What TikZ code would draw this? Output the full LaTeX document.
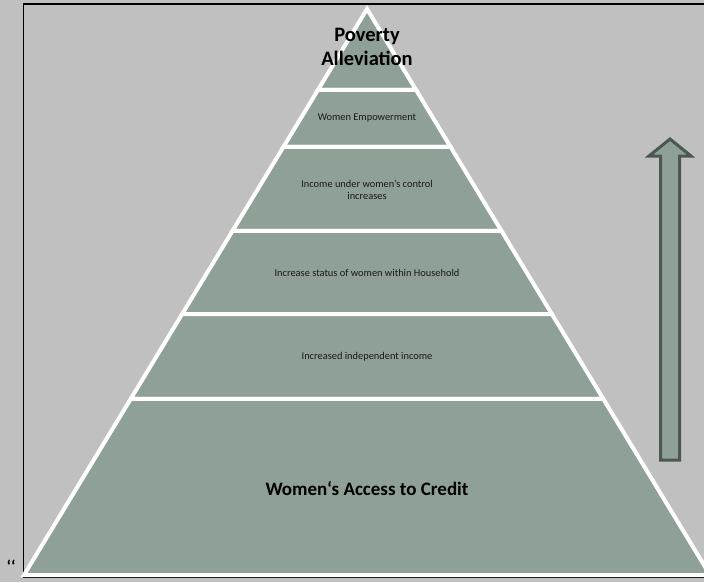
\documentclass[tikz,border=0pt]{standalone}
\usepackage{fontspec}
\setmainfont{Carlito}
\usetikzlibrary{calc}
\definecolor{bggrey}{HTML}{C0C0C0}
\definecolor{tierfill}{HTML}{8FA196}
\definecolor{arrowline}{HTML}{4B584F}
\tikzstyle{tier} = [fill=tierfill, draw=white, line width=4pt, line join=miter]
\tikzstyle{smalltext} = [font=\fontsize{10.4}{12.5}\selectfont, text=black!90, align=center]
\tikzstyle{bigtext} = [font=\fontsize{20.5}{24}\selectfont\bfseries, align=center]
\tikzstyle{uparrow} = [draw=arrowline, fill=tierfill, line width=3pt, line join=miter]

\begin{document}
\begin{tikzpicture}[x=1pt,y=-1pt]
\fill[bggrey] (0,0) rectangle (704,582);
\useasboundingbox (0,0) rectangle (704,582);
\draw[black, line width=1.5pt] (23.5,4) rectangle (712,577);

\coordinate (top) at (367,9);
\coordinate (bl) at (24,575);
\coordinate (br) at (710,575);

% tiers, top to bottom
\foreach \a/\b in {0/0.1431, 0.1431/0.2438, 0.2438/0.3922, 0.3922/0.5389, 0.5389/0.6890, 0.6890/1}
  \draw[tier] ($(top)!\a!(bl)$) -- ($(top)!\b!(bl)$) -- ($(top)!\b!(br)$) -- ($(top)!\a!(br)$) -- cycle;

\node(poverty)[bigtext] at (367,47) {Poverty\\Alleviation};
\node(empower)[smalltext] at (367,118) {Women Empowerment};
\node(control)[smalltext] at (367,190) {Income under women’s control\\increases};
\node(status)[smalltext] at (367,273) {Increase status of women within Household};
\node(income)[smalltext] at (367,357) {Increased independent income};
\node(credit)[bigtext, font=\fontsize{19}{22}\selectfont\bfseries] at (367,489) {Women‘s Access to Credit};

\node(ticks)[font=\fontsize{17}{20}\selectfont\bfseries] at (11,566) {`{}`};

% arrow on the right
\draw[uparrow] (660.5,460) -- (660.5,156) -- (649,156) -- (670,139) -- (691,156) -- (679.5,156) -- (679.5,460) -- cycle;
\end{tikzpicture}
\end{document}
